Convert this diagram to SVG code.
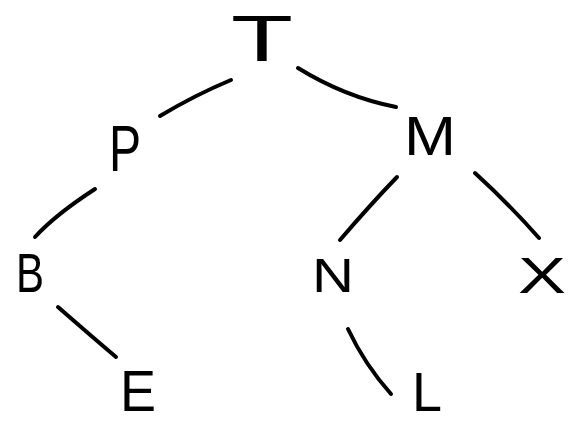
<svg xmlns="http://www.w3.org/2000/svg" width="581" height="425" viewBox="0 0 581 425">
<style>
.bg{fill:#ffffff}
.lbl{font-family:"Liberation Sans",Arial,sans-serif;fill:#000;text-anchor:middle}
.edge{fill:none;stroke:#000;stroke-width:4;stroke-linecap:round;stroke-linejoin:round}
</style>
<rect class="bg" x="0" y="0" width="581" height="425"/>
<g id="connectors">
<path class="edge" d="M160 116 Q195 95 231 80"/>
<path class="edge" d="M298 68 Q345 97 396 107"/>
<path class="edge" d="M95 189 Q55 215 35 237"/>
<path class="edge" d="M397 177 Q370 205 340 240"/>
<path class="edge" d="M475 173 Q510 205 539 238"/>
<path class="edge" d="M58 307 Q90 335 116 357"/>
<path class="edge" d="M348 329 Q365 365 391 394"/>
</g>
<g id="node-T"><text class="lbl" x="262" y="61" font-size="65" textLength="62" lengthAdjust="spacingAndGlyphs">T</text></g>
<g id="node-P"><text class="lbl" x="125" y="171" font-size="64" textLength="32" lengthAdjust="spacingAndGlyphs">P</text></g>
<g id="node-M"><text class="lbl" x="430" y="155" font-size="56" textLength="52" lengthAdjust="spacingAndGlyphs">M</text></g>
<g id="node-B"><text class="lbl" x="30" y="292" font-size="56" textLength="28" lengthAdjust="spacingAndGlyphs">B</text></g>
<g id="node-N"><text class="lbl" x="333" y="292" font-size="48" textLength="42" lengthAdjust="spacingAndGlyphs">N</text></g>
<g id="node-X"><text class="lbl" x="542" y="293" font-size="50" textLength="48" lengthAdjust="spacingAndGlyphs">X</text></g>
<g id="node-E"><text class="lbl" x="138" y="411" font-size="58" textLength="36" lengthAdjust="spacingAndGlyphs">E</text></g>
<g id="node-L"><text class="lbl" x="427" y="411" font-size="56" textLength="30" lengthAdjust="spacingAndGlyphs">L</text></g>
</svg>
